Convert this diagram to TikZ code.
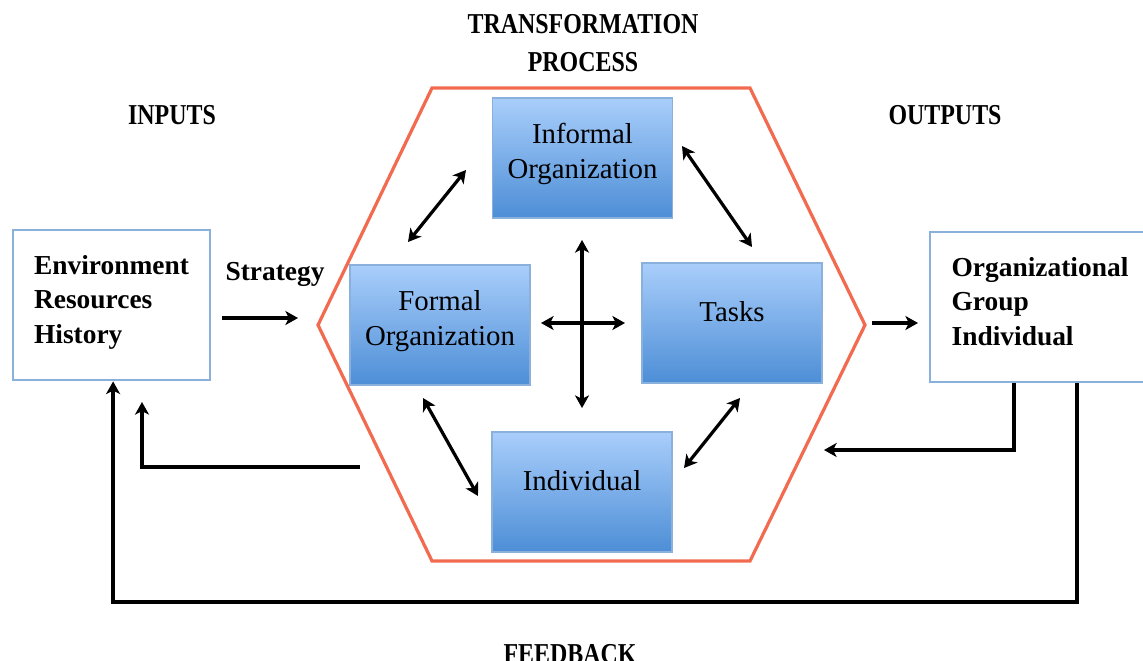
\documentclass[tikz,border=0pt]{standalone}
\usepackage{fontspec}
\setmainfont{Liberation Serif}
\newfontfamily\headFont{Liberation Serif}[FakeStretch=0.83]
\usetikzlibrary{arrows.meta,calc}
\definecolor{BoxTop}{HTML}{A9CEFB}
\definecolor{BoxBottom}{HTML}{4D8ED6}
\definecolor{BoxEdge}{HTML}{8AB0DC}
\definecolor{HexRed}{HTML}{F26B50}

\begin{document}
\begin{tikzpicture}[
    x=0.025cm, y=-0.025cm,
    >={Stealth[length=9pt,width=10pt,inset=2.5pt]},
    block/.style={draw=BoxEdge, line width=0.8pt, top color=BoxTop, bottom color=BoxBottom,
        minimum width=4.5cm, minimum height=3cm, inner sep=0pt, align=center,
        text depth=10pt, font=\fontsize{20.5}{25}\selectfont},
    frame/.style={draw=BoxEdge, line width=2pt, fill=white, minimum height=3.75cm,
        inner sep=0pt, align=left, text depth=8pt, font=\fontsize{19.5}{24.5}\selectfont\bfseries},
    heading/.style={align=center, font=\headFont\bfseries\fontsize{20.5}{27}\selectfont},
    hexEdge/.style={draw=HexRed, line width=2.3pt, line join=miter},
    link/.style={<->, line width=2.3pt},
    flow/.style={->, line width=2.3pt}
 ]
\useasboundingbox (0,0) rectangle (1143,660);

% transformation process
\draw[hexEdge] (432,88) -- (750,88) -- (865,325) -- (750,561) -- (432,561) -- (318,325) -- cycle;

\node[block] (informal) at (582.5,158) {Informal\\Organization};
\node[block] (formal) at (440,325) {Formal\\Organization};
\node[block, text depth=16pt] (tasks) at (732,323) {Tasks};
\node[block, text depth=16pt] (individual) at (582,492) {Individual};

% inputs and outputs
\node[frame, minimum width=4.925cm] (env) at (111.5,305) {Environment\\Resources\\History};
\node[frame, minimum width=5.5cm] (out) at (1040,307) {Organizational\\Group\\Individual};

\node[heading] (inputs) at (172,115) {INPUTS};
\node[heading] (outputs) at (945,115) {OUTPUTS};
\node[heading] (transform) at (583,43) {TRANSFORMATION\\PROCESS};
\node[heading, anchor=base] (feedback) at (570,663) {FEEDBACK};
\node[font=\fontsize{19.5}{24}\selectfont\bfseries] (strategy) at (275,274) {Strategy};

\coordinate (ulA) at (408,242);
\coordinate (ulB) at (466,170);
\coordinate (urA) at (682,146);
\coordinate (urB) at (752,247);
\coordinate (llA) at (423,398);
\coordinate (llB) at (478,496);
\coordinate (lrA) at (740,398);
\coordinate (lrB) at (684,468);
\coordinate (vA) at (582,240);
\coordinate (vB) at (582,408);
\coordinate (hA) at (541,323);
\coordinate (hB) at (625,323);

\foreach \a/\b in {ulA/ulB,urA/urB,llA/llB,lrA/lrB,vA/vB,hA/hB} {
    \draw[link] (\a) -- (\b);
}

\coordinate (stratA) at (222,318);
\coordinate (stratB) at (298,318);
\coordinate (outA) at (872,323);
\coordinate (outB) at (918,323);
\draw[flow] (stratA) -- (stratB);
\draw[flow] (outA) -- (outB);

% feedback loops
\coordinate (backR) at (824,450);
\coordinate (backL) at (360,467);
\coordinate (backUp) at (142,402);
\coordinate (fbLine) at (570,602);
\draw[flow] ([xshift=-0.65cm]out.south) |- (backR);
\draw[flow] (backL) -| (backUp);
\draw[flow] ([xshift=0.925cm]out.south) |- (fbLine) -| ([xshift=0.04cm]env.south);

\end{tikzpicture}
\end{document}
